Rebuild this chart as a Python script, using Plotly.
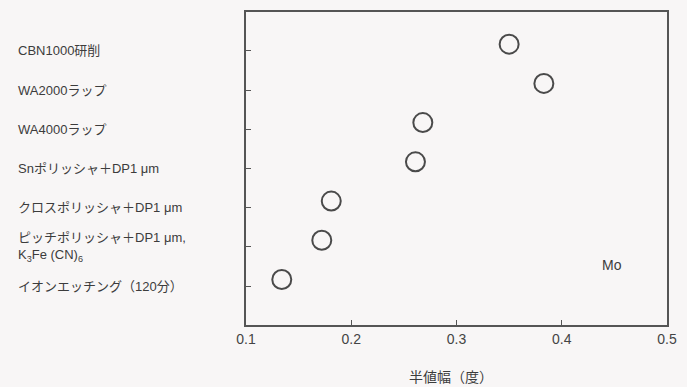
import plotly.graph_objects as go

categories = [
    "CBN1000研削",
    "WA2000ラップ",
    "WA4000ラップ",
    "Snポリッシャ＋DP1 μm",
    "クロスポリッシャ＋DP1 μm",
    "ピッチポリッシャ＋DP1 μm,<br>K<sub>3</sub>Fe (CN)<sub>6</sub>",
    "イオンエッチング（120分）",
]
half_width = [0.350, 0.383, 0.268, 0.261, 0.181, 0.172, 0.134]
x_ticks = [0.1, 0.2, 0.3, 0.4, 0.5]
x_title = "半値幅（度）"
sample_label = "Mo"

FONT = "Liberation Sans, Noto Sans CJK JP, sans-serif"
INK = "#3c3c3c"
BG = "#f8f6f6"

W, H = 687, 387
L, R, T, B = 246, 15, 10, 387 - 325
PW, PH = W - L - R, H - T - B

n = len(categories)
idx = list(range(n))

fig = go.Figure()
fig.add_trace(go.Scatter(
    x=half_width, y=idx, mode="markers", yaxis="y2",
    marker=dict(symbol="circle-open", size=19, color="#4a4a4a",
                line=dict(width=2, color="#4a4a4a")),
    showlegend=False, cliponaxis=False,
))

annotations = []
for i, c in enumerate(categories):
    annotations.append(dict(
        x=(13 - L) / PW, xref="paper", xanchor="left", y=i, yref="y",
        text=c, showarrow=False, align="left",
        font=dict(family=FONT, size=13, color=INK),
    ))
annotations.append(dict(
    x=0.448, xref="x", y=5.47, yref="y", text=sample_label, showarrow=False,
    font=dict(family=FONT, size=14, color=INK),
))
annotations.append(dict(
    x=(453 - L) / PW, xref="paper", y=-(377 - 325) / PH, yref="paper",
    yanchor="middle", text=x_title, showarrow=False,
    font=dict(family=FONT, size=14, color=INK),
))

fig.update_layout(
    width=W, height=H,
    margin=dict(l=L, r=R, t=T, b=B),
    paper_bgcolor=BG, plot_bgcolor=BG,
    font=dict(family=FONT, color=INK),
    xaxis=dict(
        range=[0.1, 0.5], tickvals=x_ticks,
        ticktext=[f"{v:.1f}" for v in x_ticks],
        ticks="inside", ticklen=5, tickcolor="#555", tickwidth=1.2,
        showline=True, linecolor="#555", linewidth=1.5, mirror=True,
        showgrid=False, zeroline=False,
        tickfont=dict(family=FONT, size=14, color="#444"),
    ),
    yaxis=dict(
        range=[6.99, -0.99], tickvals=idx, showticklabels=False,
        ticks="inside", ticklen=5, tickcolor="#555", tickwidth=1.2,
        showline=True, linecolor="#555", linewidth=1.5, mirror=True,
        showgrid=False, zeroline=False,
    ),
    yaxis2=dict(
        range=[6.99 + 0.17, -0.99 + 0.17], overlaying="y", visible=False,
        showgrid=False, zeroline=False,
    ),
    annotations=annotations,
)

fig.write_html(
    "out.html",
    config={"displayModeBar": False},
    post_script="document.body.style.margin='0';document.body.style.overflow='hidden';"
                "document.body.style.background='" + BG + "';",
)
